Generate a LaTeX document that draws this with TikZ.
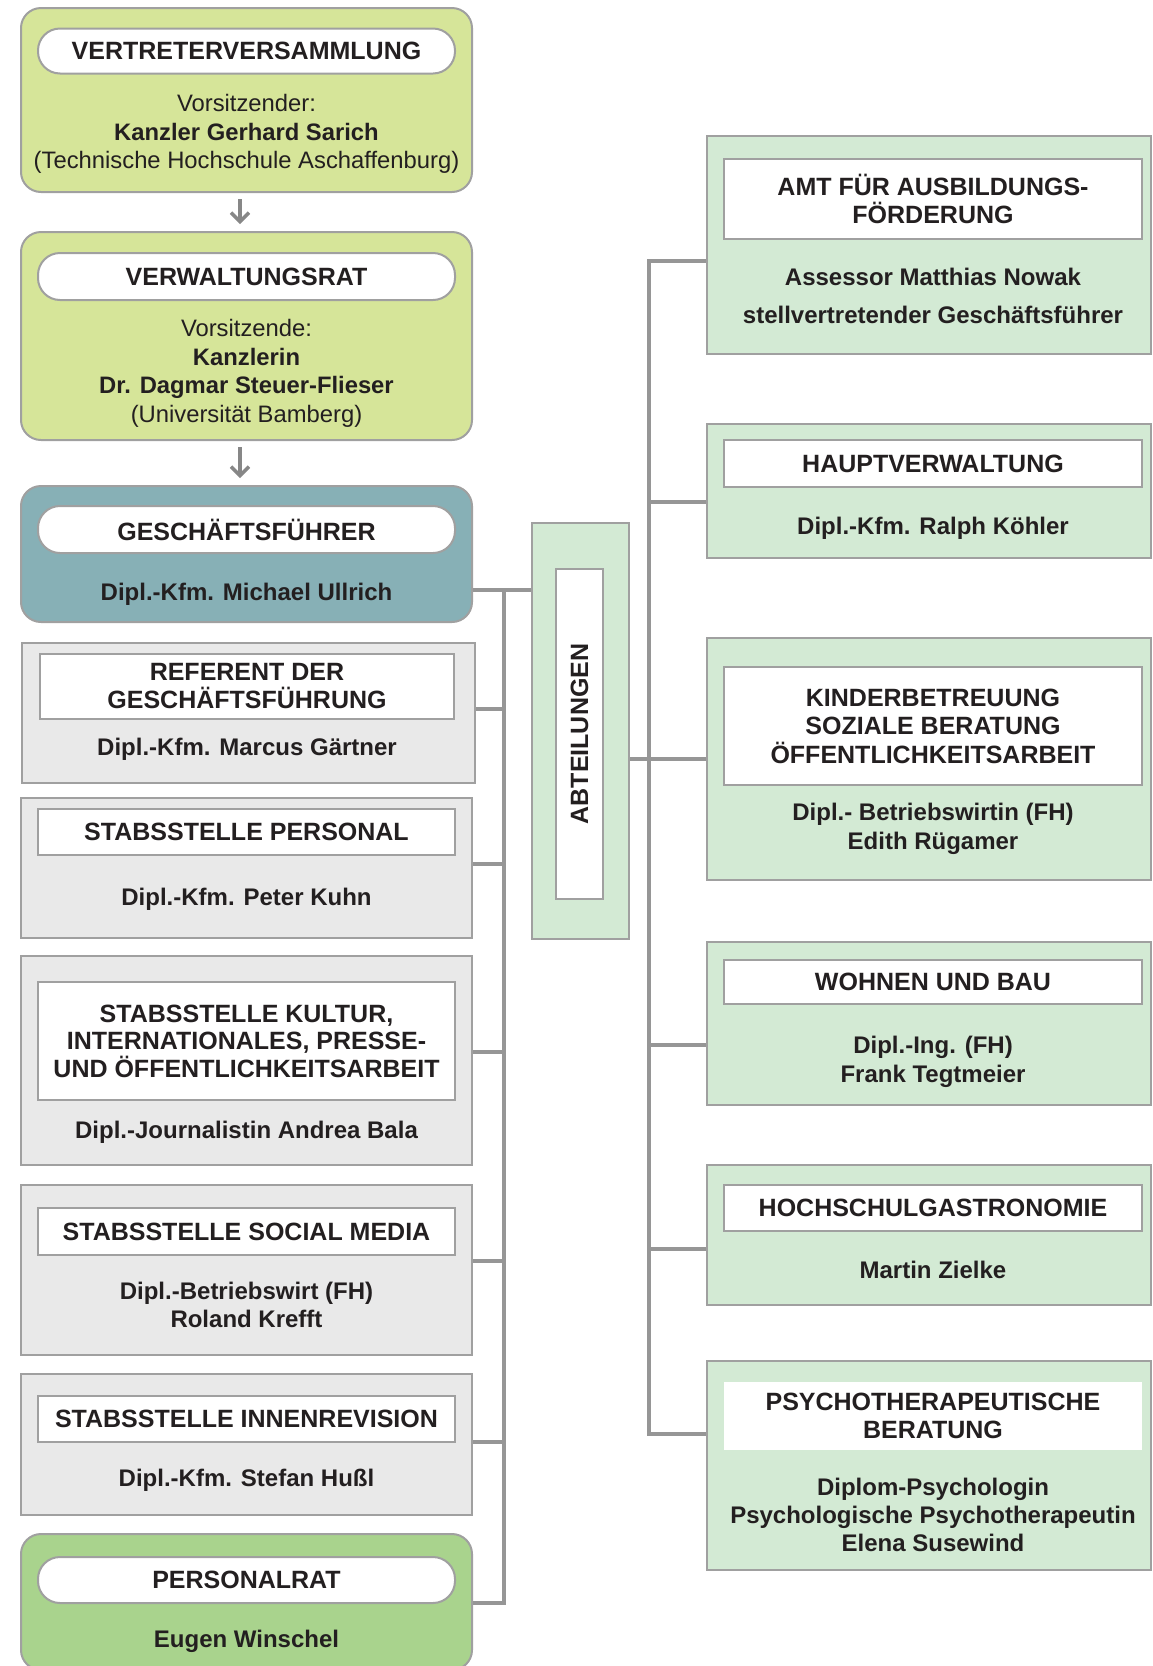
\documentclass[tikz,border=0pt]{standalone}
\usepackage{fontspec}
\setmainfont{Liberation Sans}
\usetikzlibrary{
	arrows.meta,
	calc,
	positioning,
	shapes,
}
\definecolor{rahmen}{RGB}{160,160,160}
\definecolor{linie}{RGB}{150,150,150}
\definecolor{hellgruen}{RGB}{214,229,153}
\definecolor{petrol}{RGB}{135,176,182}
\definecolor{hellgrau}{RGB}{233,233,233}
\definecolor{mint}{RGB}{211,234,212}
\definecolor{gruen}{RGB}{169,211,141}
\definecolor{schrift}{RGB}{35,31,32}
\tikzset{
	outer box/.style={
		draw=rahmen,
		line width=1pt,
		inner sep=0pt,
		minimum width=225.5pt,
	},
	round box/.style={outer box, rounded corners=10pt},
	right box/.style={outer box, fill=mint, minimum width=222pt},
	title pill/.style={
		draw=rahmen,
		fill=white,
		line width=1pt,
		rounded corners=11pt,
		inner sep=0pt,
		minimum width=208.5pt,
		align=center,
		text=schrift,
		font=\bfseries\fontsize{12.5pt}{13.75pt}\selectfont,
	},
	title box/.style={title pill, rounded corners=0pt},
	narrow title/.style={title box, minimum width=209pt,
		font=\bfseries\fontsize{12.5pt}{14.3pt}\selectfont},
	name text/.style={
		inner sep=0pt,
		align=center,
		text=schrift,
		font=\bfseries\fontsize{12pt}{14.2pt}\selectfont,
	},
	narrow name/.style={name text},
	body text/.style={name text,
		font=\fontsize{11.9pt}{14.3pt}\selectfont},
	connector/.style={draw=linie, line width=1.7pt},
	down arrow/.style={
		draw=linie!90!black,
		line width=1.7pt,
		-{Straight Barb[length=4.5pt,width=9pt]},
		shorten <=3pt,
		shorten >=3.5pt,
	},
}

\begin{document}
\begin{tikzpicture}[x=0.5pt, y=-0.5pt]
\useasboundingbox (0,0) rectangle (1152,1666);

% left column
\node[round box, fill=hellgruen, minimum height=92pt] (vv) at (246.5,100) {};
\node[title pill, minimum height=22.5pt] (vvtitle) at (246.5,51) {VERTRETERVERSAMMLUNG};
\node[body text] (vvtext) at (246.5,134) {Vorsitzender:\\\textbf{Kanzler Gerhard Sarich}\\(Technische Hochschule Aschaffenburg)};

\node[round box, fill=hellgruen, minimum height=104pt] (vr) at (246.5,336) {};
\node[title pill, minimum height=23.5pt] (vrtitle) at (246.5,276.5) {VERWALTUNGSRAT};
\node[body text] (vrtext) at (246.5,373.5) {Vorsitzende:\\\textbf{Kanzlerin}\\\textbf{Dr. Dagmar Steuer-Flieser}\\(Universität Bamberg)};

\node[round box, fill=petrol, minimum height=68pt] (gf) at (246.5,554) {};
\node[title pill, minimum height=23.5pt] (gftitle) at (246.5,529.5) {GESCHÄFTSFÜHRER};
\node[name text] (gfname) at (246.5,594) {Dipl.-Kfm. Michael Ullrich};

\node[outer box, fill=hellgrau, minimum width=226.5pt, minimum height=70pt] (ref) at (248.5,712.5) {};
\node[title box, minimum width=207pt, minimum height=32.5pt] (reftitle) at (247,686) {REFERENT DER\\GESCHÄFTSFÜHRUNG};
\node[name text] (refname) at (247,749) {Dipl.-Kfm. Marcus Gärtner};

\node[outer box, fill=hellgrau, minimum height=70pt] (pers) at (246.5,868) {};
\node[title box, minimum height=23pt] (perstitle) at (246.5,832) {STABSSTELLE PERSONAL};
\node[name text] (persname) at (246.5,899) {Dipl.-Kfm. Peter Kuhn};

\node[outer box, fill=hellgrau, minimum height=104.5pt] (kult) at (246.5,1060.5) {};
\node[title box, minimum height=59pt] (kulttitle) at (246.5,1041) {STABSSTELLE KULTUR,\\INTERNATIONALES, PRESSE-\\UND ÖFFENTLICHKEITSARBEIT};
\node[name text] (kultname) at (246.5,1132) {Dipl.-Journalistin Andrea Bala};

\node[outer box, fill=hellgrau, minimum height=85pt] (social) at (246.5,1270) {};
\node[title box, minimum height=23.5pt] (socialtitle) at (246.5,1231.5) {STABSSTELLE SOCIAL MEDIA};
\node[name text] (socialname) at (246.5,1305) {Dipl.-Betriebswirt (FH)\\Roland Krefft};

\node[outer box, fill=hellgrau, minimum height=70.5pt] (innen) at (246.5,1444.5) {};
\node[title box, minimum height=23pt] (innentitle) at (246.5,1419) {STABSSTELLE INNENREVISION};
\node[name text] (innenname) at (246.5,1480) {Dipl.-Kfm. Stefan Hußl};

\node[round box, fill=gruen, minimum height=68pt] (pr) at (246.5,1602) {};
\node[title pill, minimum height=23pt] (prtitle) at (246.5,1580) {PERSONALRAT};
\node[name text] (prname) at (246.5,1641) {Eugen Winschel};

\draw[down arrow] ([xshift=-3.25pt]vv.south) -- ([xshift=-3.25pt]vr.north);
\draw[down arrow] ([xshift=-3.25pt]vr.south) -- ([xshift=-3.25pt]gf.north);

% abteilungen
\node[outer box, fill=mint, minimum width=48.5pt, minimum height=208pt] (abt) at (580.5,731) {};
\node[title box, rotate=90, minimum width=165pt, minimum height=23.5pt] (abttitle) at (579.5,734) {ABTEILUNGEN};

% right column
\node[right box, minimum height=109pt] (amt) at (929,245) {};
\node[narrow title, minimum height=40pt] (amttitle) at (933,199) {AMT FÜR AUSBILDUNGS-\\FÖRDERUNG};
\node[narrow name] (amtname) at (933,296) {Assessor Matthias Nowak\\[5pt]stellvertretender Geschäftsführer};

\node[right box, minimum height=67pt] (haupt) at (929,491) {};
\node[narrow title, minimum height=23.5pt] (haupttitle) at (933,463.5) {HAUPTVERWALTUNG};
\node[narrow name] (hauptname) at (933,528) {Dipl.-Kfm. Ralph Köhler};

\node[right box, minimum height=121pt] (kind) at (929,759) {};
\node[narrow title, minimum height=59pt] (kindtitle) at (933,726) {KINDERBETREUUNG\\SOZIALE BERATUNG\\ÖFFENTLICHKEITSARBEIT};
\node[narrow name] (kindname) at (933,829) {Dipl.- Betriebswirtin (FH)\\Edith Rügamer};

\node[right box, minimum height=81.5pt] (wohn) at (929,1023.5) {};
\node[title box, minimum width=209pt, minimum height=22pt] (wohntitle) at (933,982) {WOHNEN UND BAU};
\node[name text] (wohnname) at (933,1062) {Dipl.-Ing. (FH)\\Frank Tegtmeier};

\node[right box, minimum height=70pt] (hoch) at (929,1235) {};
\node[title box, minimum width=209pt, minimum height=23pt] (hochtitle) at (933,1208) {HOCHSCHULGASTRONOMIE};
\node[name text] (hochname) at (933,1270) {Martin Zielke};

\node[right box, minimum height=104.5pt] (psy) at (929,1465.5) {};
\node[title box, draw=none, minimum width=209pt, minimum height=34pt] (psytitle) at (933,1416) {PSYCHOTHERAPEUTISCHE\\BERATUNG};
\node[name text] (psyname) at (933,1515) {Diplom-Psychologin\\Psychologische Psychotherapeutin\\Elena Susewind};

% connectors
\coordinate (lbtop) at (504,590);
\coordinate (lbbot) at (504,1603);
\coordinate (rbtop) at (649,261);
\coordinate (rbbot) at (649,1434);

\draw[connector] (lbtop -| gf.east) -- (lbtop -| abt.west);
\draw[connector, line cap=rect] (lbtop) -- (lbbot);
\foreach \n \y in {
	ref/709,pers/864,kult/1052,%
	social/1261,innen/1442,pr/1603%
}{
	\draw[connector] (\n.east |- 0,\y) -- (lbtop |- 0,\y);
}

\draw[connector] (abt.east |- 0,759) -- (rbtop |- 0,759);
\draw[connector, line cap=rect] (rbtop) -- (rbbot);
\foreach \n \y in {
	amt/261,haupt/502,kind/759,%
	wohn/1045,hoch/1249,psy/1434%
}{
	\draw[connector] (rbtop |- 0,\y) -- (\n.west |- 0,\y);
}

\end{tikzpicture}
\end{document}
